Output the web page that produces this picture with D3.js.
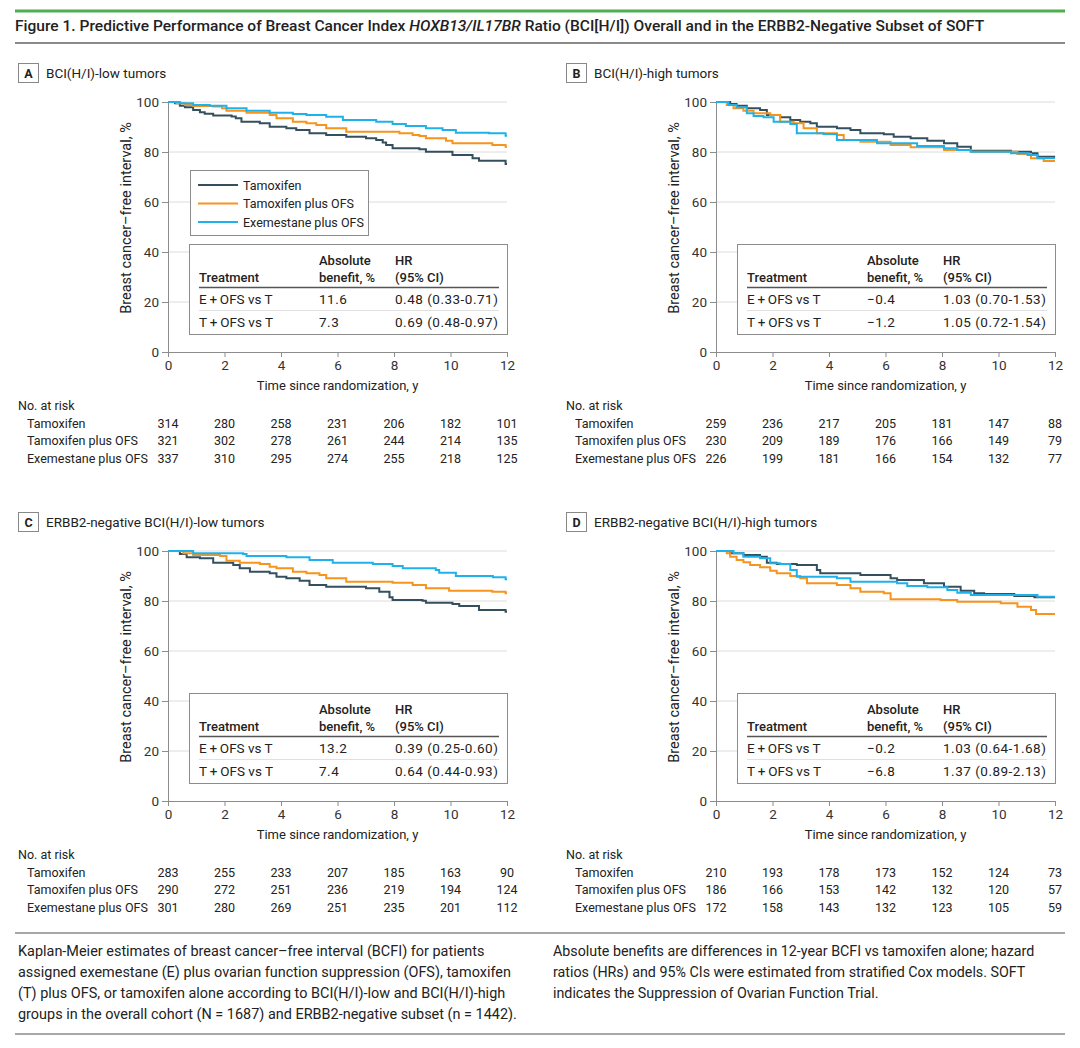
<!DOCTYPE html>
<html>
<head>
<meta charset="utf-8">
<script src="https://cdn.jsdelivr.net/npm/d3@7"></script>
<style>
  body { margin: 0; background: #fff; }
  svg { display: block; font-family: Roboto, "Noto Sans", sans-serif; }
  .tick-text { font-size: 13.5px; fill: #333; }
  .axis-title { font-size: 13px; fill: #222; }
  .y-title { font-size: 14.5px; fill: #222; }
  .risk-text { font-size: 12.5px; fill: #222; }
  .tbl-head { font-size: 13px; font-weight: 500; fill: #222; }
  .tbl-cell { font-size: 13.5px; fill: #222; }
  .tbl-num { font-size: 13.5px; fill: #222; letter-spacing: 0.5px; }
  .legend-text { font-size: 12.5px; fill: #222; }
  .panel-title { font-size: 13.5px; fill: #222; }
  .caption { font-size: 14.5px; fill: #222; }
</style>
</head>
<body>
<div id="chart"></div>
<script>
const TIME_TICKS = [0, 2, 4, 6, 8, 10, 12];
const SURV_TICKS = [0, 20, 40, 60, 80, 100];
const ARMS = ["Tamoxifen", "Tamoxifen plus OFS", "Exemestane plus OFS"];
const ARM_COLORS = ["#34505f", "#f7941d", "#1fb2ea"];

const PANEL_LETTERS = ["A", "B", "C", "D"];
const PANEL_TITLES = [
  "BCI(H/I)-low tumors",
  "BCI(H/I)-high tumors",
  "ERBB2-negative BCI(H/I)-low tumors",
  "ERBB2-negative BCI(H/I)-high tumors",
];

// Kaplan-Meier step points [years, % event free]
const A_TAM = [[0,100],[0.25,99.5],[0.42,98.5],[0.6,97.9],[0.89,96.8],[1.13,95.9],[1.3,95.3],[1.6,94.6],[2.25,94.2],[2.4,93.5],[2.6,92.1],[3.25,91.5],[3.6,90.1],[4.19,89.5],[4.54,88.8],[5.01,87.5],[5.6,86.8],[6.31,86.1],[7.01,85.5],[7.37,84.8],[7.6,83.8],[7.72,82.8],[7.95,81.5],[8.9,81.1],[9.13,80.1],[10.07,78.8],[10.78,77.5],[11.01,76.5],[11.95,75.2],[12,75.2]];
const A_TOFS = [[0,100],[0.3,99.5],[0.6,98.8],[0.89,98.4],[1.6,98.2],[1.91,97.5],[2.07,96.5],[2.78,95.7],[3.6,94.8],[3.84,93.5],[4.42,92.1],[4.9,91.5],[5.25,90.8],[5.6,89.5],[6.31,88.1],[8.19,87.5],[8.66,86.8],[8.9,86.4],[9.13,85.5],[9.84,84.5],[10.07,83.5],[11.48,82.8],[11.95,82.1],[12,82.1]];
const A_EOFS = [[0,100],[0.42,99.5],[0.89,98.8],[1.48,98.5],[2.07,97.5],[2.78,96.5],[3.6,95.7],[4.42,95.2],[4.9,94.8],[5.6,94.1],[6.19,92.8],[7.37,92.1],[7.95,91.2],[8.42,90.4],[9.13,89.5],[9.72,88.8],[10.19,87.7],[11.37,87.5],[11.95,86.5],[12,86.5]];

const B_TAM = [[0,100],[0.5,99.2],[0.73,98.5],[1.09,97.5],[1.56,96.8],[1.8,94.8],[2.27,93.9],[2.63,92.8],[2.98,92.1],[3.34,91.5],[3.57,90.1],[4.28,89.5],[4.76,88.8],[5.11,87.5],[5.94,87.1],[6.29,86.1],[6.89,85.5],[7.48,84.5],[8.07,83.5],[8.54,82.1],[9.02,80.5],[10.44,80.1],[11.15,79.5],[11.38,78.1],[11.97,77.8],[12,77.8]];
const B_TOFS = [[0,100],[0.38,98.8],[0.62,97.5],[0.97,96.5],[1.33,95.5],[1.92,94.8],[2.27,92.1],[2.75,91.5],[3.1,89.5],[3.57,87.5],[4.28,86.8],[4.52,84.8],[5.11,84.1],[6.18,82.8],[6.89,81.9],[8.07,80.8],[9.02,80.1],[10.67,79.2],[11.15,77.5],[11.6,76.4],[12,76.4]];
const B_EOFS = [[0,100],[0.44,98.8],[0.73,97.9],[1.09,95.5],[1.33,94.4],[1.68,93.9],[2.04,92.1],[2.63,91.2],[2.86,87.5],[3.81,87.2],[4.28,84.8],[5.7,83.5],[7.12,82.4],[8.07,81.5],[8.54,80.8],[9.02,80.1],[10.44,79.5],[11.03,78.8],[11.38,77.5],[12,77.5]];

const C_TAM = [[0,100],[0.42,98.8],[0.66,97.5],[1.13,97.1],[1.6,95.3],[2.31,94.4],[2.54,93.1],[2.9,91.7],[3.6,91.1],[3.84,89.7],[4.19,89.1],[4.66,88.1],[5.01,86.4],[5.6,85.7],[7.01,85.1],[7.48,83.7],[7.84,81.5],[7.95,80.4],[9.01,80.1],[9.13,79.3],[10.07,78.8],[10.31,78],[11.01,76.4],[11.95,75.7],[12,75.7]];
const C_TOFS = [[0,100],[0.54,99.1],[0.89,98.4],[1.84,98],[2.07,96.1],[2.54,95.3],[3.25,94.8],[3.6,93.7],[3.84,93.1],[4.42,91.7],[4.9,91.1],[5.36,90.4],[5.6,89.1],[6.31,87.7],[7.95,87.3],[8.66,86.4],[9.13,85.1],[9.95,84.1],[11.48,83.7],[11.95,83.1],[12,83.1]];
const C_EOFS = [[0,100],[0.89,99.1],[2.66,98.8],[2.78,98],[4.19,97.5],[5.01,96.4],[5.83,95.3],[7.25,94.8],[7.95,94],[8.31,93.1],[9.48,92.4],[9.6,91.3],[10.19,90],[11.5,89.5],[11.95,88.7],[12,88.7]];

const D_TAM = [[0,100],[0.5,99.1],[0.97,98.4],[1.56,97.7],[1.8,95.3],[2.15,94.8],[2.86,94.4],[3.57,92.4],[3.69,91.1],[5.11,90.4],[6.18,89.1],[6.41,88.4],[7.36,87.1],[8.07,85.7],[8.66,84.1],[9.14,83.1],[9.49,82.8],[10.56,82],[11.27,81.5],[12,81.5]];
const D_TOFS = [[0,100],[0.38,99.1],[0.5,97.7],[0.73,96.4],[0.97,95.5],[1.21,94.4],[1.56,93.5],[1.92,92.1],[2.15,91.1],[2.63,90],[2.98,89.1],[3.22,87.1],[4.28,86.4],[4.76,85.1],[5.11,83.7],[5.94,83.1],[6.18,80.7],[7.95,80.4],[8.54,79.7],[10.08,79.1],[10.67,77.7],[11.15,76.4],[11.33,74.8],[12,74.8]];
const D_EOFS = [[0,100],[0.62,99.1],[0.97,97.7],[1.56,97.1],[1.92,95.1],[2.27,94.8],[2.63,92.4],[2.86,89.7],[4.28,89.1],[4.76,87.7],[6.41,87.1],[6.77,86],[7.48,85.5],[8.19,84.4],[8.54,83.3],[9.02,82.4],[11.38,81.7],[12,81.7]];

// No. at risk at years 0, 2, 4, ... 12
const A_RISK = [[314,280,258,231,206,182,101],[321,302,278,261,244,214,135],[337,310,295,274,255,218,125]];
const B_RISK = [[259,236,217,205,181,147,88],[230,209,189,176,166,149,79],[226,199,181,166,154,132,77]];
const C_RISK = [[283,255,233,207,185,163,90],[290,272,251,236,219,194,124],[301,280,269,251,235,201,112]];
const D_RISK = [[210,193,178,173,152,124,73],[186,166,153,142,132,120,57],[172,158,143,132,123,105,59]];

const TABLE_COMPARISONS = ["E\u2009+\u2009OFS vs T", "T\u2009+\u2009OFS vs T"];
const A_TABLE = [["11.6", "0.48 (0.33-0.71)"], ["7.3", "0.69 (0.48-0.97)"]];
const B_TABLE = [["−0.4", "1.03 (0.70-1.53)"], ["−1.2", "1.05 (0.72-1.54)"]];
const C_TABLE = [["13.2", "0.39 (0.25-0.60)"], ["7.4", "0.64 (0.44-0.93)"]];
const D_TABLE = [["−0.2", "1.03 (0.64-1.68)"], ["−6.8", "1.37 (0.89-2.13)"]];

const CAPTION_LEFT = [
  "Kaplan-Meier estimates of breast cancer–free interval (BCFI) for patients",
  "assigned exemestane (E) plus ovarian function suppression (OFS), tamoxifen",
  "(T) plus OFS, or tamoxifen alone according to BCI(H/I)-low and BCI(H/I)-high",
  "groups in the overall cohort (N = 1687) and ERBB2-negative subset (n = 1442).",
];
const CAPTION_RIGHT = [
  "Absolute benefits are differences in 12-year BCFI vs tamoxifen alone; hazard",
  "ratios (HRs) and 95% CIs were estimated from stratified Cox models. SOFT",
  "indicates the Suppression of Ovarian Function Trial.",
];

const width = 1080;
const height = 1048;
const svg = d3.select("#chart").append("svg").attr("width", width).attr("height", height);

// squeeze a block of lines horizontally so its reference line hits a target width
function condenseBlock(group, refNode, targetWidth) {
  const natural = refNode.getComputedTextLength();
  const sx = targetWidth / natural;
  group.attr("transform", `${group.attr("transform") || ""} scale(${sx},1)`);
}

// header rules and title
svg.append("line").attr("x1", 15).attr("x2", 1065).attr("y1", 11).attr("y2", 11)
  .attr("stroke", "#4fae4f").attr("stroke-width", 3);
svg.append("line").attr("x1", 15).attr("x2", 1065).attr("y1", 43).attr("y2", 43)
  .attr("stroke", "#8a8a8a").attr("stroke-width", 2);

const titleG = svg.append("g").attr("transform", "translate(15,31)");
const title = titleG.append("text").attr("font-size", 15.5).attr("font-weight", 500).attr("fill", "#222");
title.append("tspan").text("Figure 1. Predictive Performance of Breast Cancer Index ");
title.append("tspan").attr("font-style", "italic").text("HOXB13/IL17BR");
title.append("tspan").text(" Ratio (BCI[H/I]) Overall and in the ERBB2-Negative Subset of SOFT");
condenseBlock(titleG, title.node(), 970);

const panels = [
  { curves: [A_TAM, A_TOFS, A_EOFS], risk: A_RISK, table: A_TABLE, legend: true, left: 168, top: 102, labelX: 18 },
  { curves: [B_TAM, B_TOFS, B_EOFS], risk: B_RISK, table: B_TABLE, legend: false, left: 716, top: 102, labelX: 566 },
  { curves: [C_TAM, C_TOFS, C_EOFS], risk: C_RISK, table: C_TABLE, legend: false, left: 168, top: 551, labelX: 18 },
  { curves: [D_TAM, D_TOFS, D_EOFS], risk: D_RISK, table: D_TABLE, legend: false, left: 716, top: 551, labelX: 566 },
];

const plotW = 339;
const plotH = 250;

function styleAxis(a) {
  a.attr("font-family", null).attr("font-size", null);
  a.selectAll("path, line").attr("stroke", "#8c8c8c");
  a.selectAll("text").attr("class", "tick-text");
}

panels.forEach((panel, i) => {
  const x = d3.scaleLinear().domain([0, 12]).range([panel.left, panel.left + plotW]);
  const y = d3.scaleLinear().domain([0, 100]).range([panel.top + plotH, panel.top]);
  const g = svg.append("g");

  // panel heading
  g.append("rect")
    .attr("x", panel.labelX + 0.5).attr("y", panel.top - 38.5)
    .attr("width", 20).attr("height", 19)
    .attr("fill", "#fff").attr("stroke", "#888");
  g.append("text")
    .attr("x", panel.labelX + 10.5).attr("y", panel.top - 24)
    .attr("text-anchor", "middle").attr("font-size", 12.5).attr("font-weight", 700).attr("fill", "#222")
    .text(PANEL_LETTERS[i]);
  g.append("text").attr("class", "panel-title")
    .attr("x", panel.labelX + 28).attr("y", panel.top - 24.5)
    .text(PANEL_TITLES[i]);

  // grid
  g.append("g").selectAll("line")
    .data(SURV_TICKS.filter((d) => d > 0))
    .join("line")
    .attr("x1", x(0)).attr("x2", x(12))
    .attr("y1", (d) => y(d)).attr("y2", (d) => y(d))
    .attr("stroke", "#dcdcdc").attr("stroke-width", 1);

  // axes
  g.append("g")
    .attr("transform", `translate(${x(0)},0)`)
    .call(d3.axisLeft(y).tickValues(SURV_TICKS).tickSize(6).tickSizeOuter(0).tickPadding(3))
    .call(styleAxis);

  g.append("g")
    .attr("transform", `translate(0,${y(0)})`)
    .call(d3.axisBottom(x).tickValues(TIME_TICKS).tickSize(5).tickSizeOuter(0).tickPadding(3))
    .call(styleAxis);

  g.append("text").attr("class", "axis-title")
    .attr("x", (x(0) + x(12)) / 2).attr("y", y(0) + 38)
    .attr("text-anchor", "middle")
    .text("Time since randomization, y");

  g.append("text").attr("class", "y-title")
    .attr("transform", `translate(${x(0) - 37},${(y(0) + y(100)) / 2 - 9}) rotate(-90)`)
    .attr("text-anchor", "middle")
    .text("Breast cancer–free interval, %");

  // curves
  const line = d3.line().curve(d3.curveStepAfter).x((d) => x(d[0])).y((d) => y(d[1]));
  g.append("g").selectAll("path")
    .data(panel.curves)
    .join("path")
    .attr("d", line)
    .attr("fill", "none")
    .attr("stroke", (d, j) => ARM_COLORS[j])
    .attr("stroke-width", 2);

  // legend
  if (panel.legend) {
    const lg = g.append("g").attr("transform", `translate(${x(0) + 22},${y(100) + 68})`);
    lg.append("rect").attr("x", 0.5).attr("y", 0.5).attr("width", 178).attr("height", 65)
      .attr("fill", "#fff").attr("stroke", "#8c8c8c");
    ARMS.forEach((arm, j) => {
      const ry = 15 + j * 18.5;
      lg.append("line").attr("x1", 8).attr("x2", 48).attr("y1", ry).attr("y2", ry)
        .attr("stroke", ARM_COLORS[j]).attr("stroke-width", 2);
      lg.append("text").attr("class", "legend-text").attr("x", 53).attr("y", ry + 4.5).text(arm);
    });
  }

  // results table
  const tg = g.append("g").attr("transform", `translate(${x(0) + 21},${y(100) + 142})`);
  tg.append("rect").attr("x", 0.5).attr("y", 0.5).attr("width", 318).attr("height", 90)
    .attr("fill", "#fff").attr("stroke", "#8c8c8c");
  const cols = [10, 130, 206];
  tg.append("text").attr("class", "tbl-head").attr("x", cols[1]).attr("y", 21).text("Absolute");
  tg.append("text").attr("class", "tbl-head").attr("x", cols[2]).attr("y", 21).text("HR");
  tg.append("text").attr("class", "tbl-head").attr("x", cols[0]).attr("y", 38).text("Treatment");
  tg.append("text").attr("class", "tbl-head").attr("x", cols[1]).attr("y", 38).text("benefit, %");
  tg.append("text").attr("class", "tbl-head").attr("x", cols[2]).attr("y", 38).text("(95% CI)");
  tg.append("line").attr("x1", 10).attr("x2", 310).attr("y1", 43.5).attr("y2", 43.5)
    .attr("stroke", "#555").attr("stroke-width", 1.6);
  tg.append("line").attr("x1", 10).attr("x2", 310).attr("y1", 66.5).attr("y2", 66.5)
    .attr("stroke", "#e0e0e0").attr("stroke-width", 1);
  panel.table.forEach((row, r) => {
    const ry = 60 + r * 23;
    tg.append("text").attr("class", "tbl-cell").attr("x", cols[0]).attr("y", ry).text(TABLE_COMPARISONS[r]);
    tg.append("text").attr("class", "tbl-num").attr("x", cols[1]).attr("y", ry).text(row[0]);
    tg.append("text").attr("class", "tbl-num").attr("x", cols[2]).attr("y", ry).text(row[1]);
  });

  // number at risk
  const riskTop = y(0) + 58;
  g.append("text").attr("class", "risk-text").attr("x", panel.labelX).attr("y", riskTop).text("No. at risk");
  panel.risk.forEach((counts, j) => {
    const ry = riskTop + 17.5 * (j + 1);
    g.append("text").attr("class", "risk-text").attr("x", panel.labelX + 9).attr("y", ry).text(ARMS[j]);
    g.append("g").selectAll("text")
      .data(counts)
      .join("text")
      .attr("class", "risk-text")
      .attr("x", (d, k) => x(TIME_TICKS[k]))
      .attr("y", ry)
      .attr("text-anchor", "middle")
      .text((d) => d);
  });
});

// footer caption
svg.append("line").attr("x1", 15).attr("x2", 1065).attr("y1", 933).attr("y2", 933)
  .attr("stroke", "#8a8a8a").attr("stroke-width", 1.5);
svg.append("line").attr("x1", 15).attr("x2", 1065).attr("y1", 1034).attr("y2", 1034)
  .attr("stroke", "#8a8a8a").attr("stroke-width", 1.5);

function captionBlock(lines, x0, refIndex, targetWidth) {
  const cg = svg.append("g").attr("transform", `translate(${x0},956)`);
  const nodes = lines.map((ln, k) =>
    cg.append("text").attr("class", "caption").attr("x", 0).attr("y", k * 21).text(ln).node());
  condenseBlock(cg, nodes[refIndex], targetWidth);
}
captionBlock(CAPTION_LEFT, 18, 3, 499);
captionBlock(CAPTION_RIGHT, 553, 0, 482);
</script>
</body>
</html>
